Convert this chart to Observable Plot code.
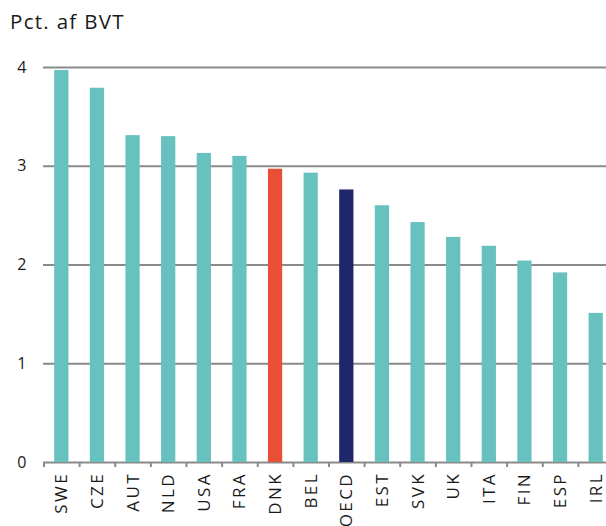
<!DOCTYPE html>
<html>
<head>
<meta charset="utf-8">
<script src="https://cdn.jsdelivr.net/npm/d3@7"></script>
<script src="https://cdn.jsdelivr.net/npm/@observablehq/plot@0.6"></script>
<style>
  html, body { margin: 0; padding: 0; background: #fff; }
  body { width: 606px; height: 526px; overflow: hidden; font-family: "Open Sans", sans-serif; }
  #title { height: 40px; box-sizing: border-box; padding: 8px 0 0 10px; font-size: 20.5px; color: #1a1a1a; letter-spacing: 1.3px; line-height: 26px; }
  #chart svg { display: block; }
  #chart g[aria-label="x-axis tick label"] text { letter-spacing: 2.4px; }
</style>
</head>
<body>
<div id="title">Pct. af BVT</div>
<div id="chart"></div>
<script>
const countries = ["SWE","CZE","AUT","NLD","USA","FRA","DNK","BEL","OECD","EST","SVK","UK","ITA","FIN","ESP","IRL"];
const values = [3.97, 3.79, 3.31, 3.30, 3.13, 3.10, 2.97, 2.93, 2.76, 2.60, 2.43, 2.28, 2.19, 2.04, 1.92, 1.51];
const yTicks = [0, 1, 2, 3, 4];

const colorOf = (name) => name === "DNK" ? "#e94f35" : name === "OECD" ? "#1f276b" : "#67c2bf";

const data = countries.map((c, i) => ({country: c, index: i, value: values[i]}));
const boundaries = d3.range(0, countries.length + 1);
const centers = countries.map((_, i) => i + 0.5);

const chart = Plot.plot({
  width: 606,
  height: 486,
  marginTop: 27,
  marginBottom: 64,
  marginLeft: 43,
  marginRight: 0,
  style: {fontFamily: "'Open Sans', sans-serif", fontSize: "16px", color: "#1a1a1a", background: "#fff"},
  x: {type: "linear", domain: [0, countries.length], range: [43.5, 613.5]},
  y: {domain: [0, 4], range: [422, 27]},
  marks: [
    Plot.ruleY(yTicks, {y: d => d, stroke: "#8a8a8a", strokeWidth: 2}),
    Plot.rectY(data, {x1: d => d.index + 0.3, x2: d => d.index + 0.7, y: "value", fill: d => colorOf(d.country)}),
    Plot.axisY({ticks: yTicks, tickSize: 0, tickPadding: 17, tickFormat: d3.format("d"), fontSize: 16, label: null}),
    Plot.axisX({ticks: boundaries, tickSize: 5, tickFormat: () => "", stroke: "#8a8a8a", strokeWidth: 2, label: null}),
    Plot.axisX({ticks: centers, tickSize: 0, tickPadding: 9.5, tickRotate: -90, tickFormat: d => countries[Math.round(d - 0.5)], fontSize: 17, label: null})
  ]
});
document.getElementById("chart").appendChild(chart);
</script>
</body>
</html>
